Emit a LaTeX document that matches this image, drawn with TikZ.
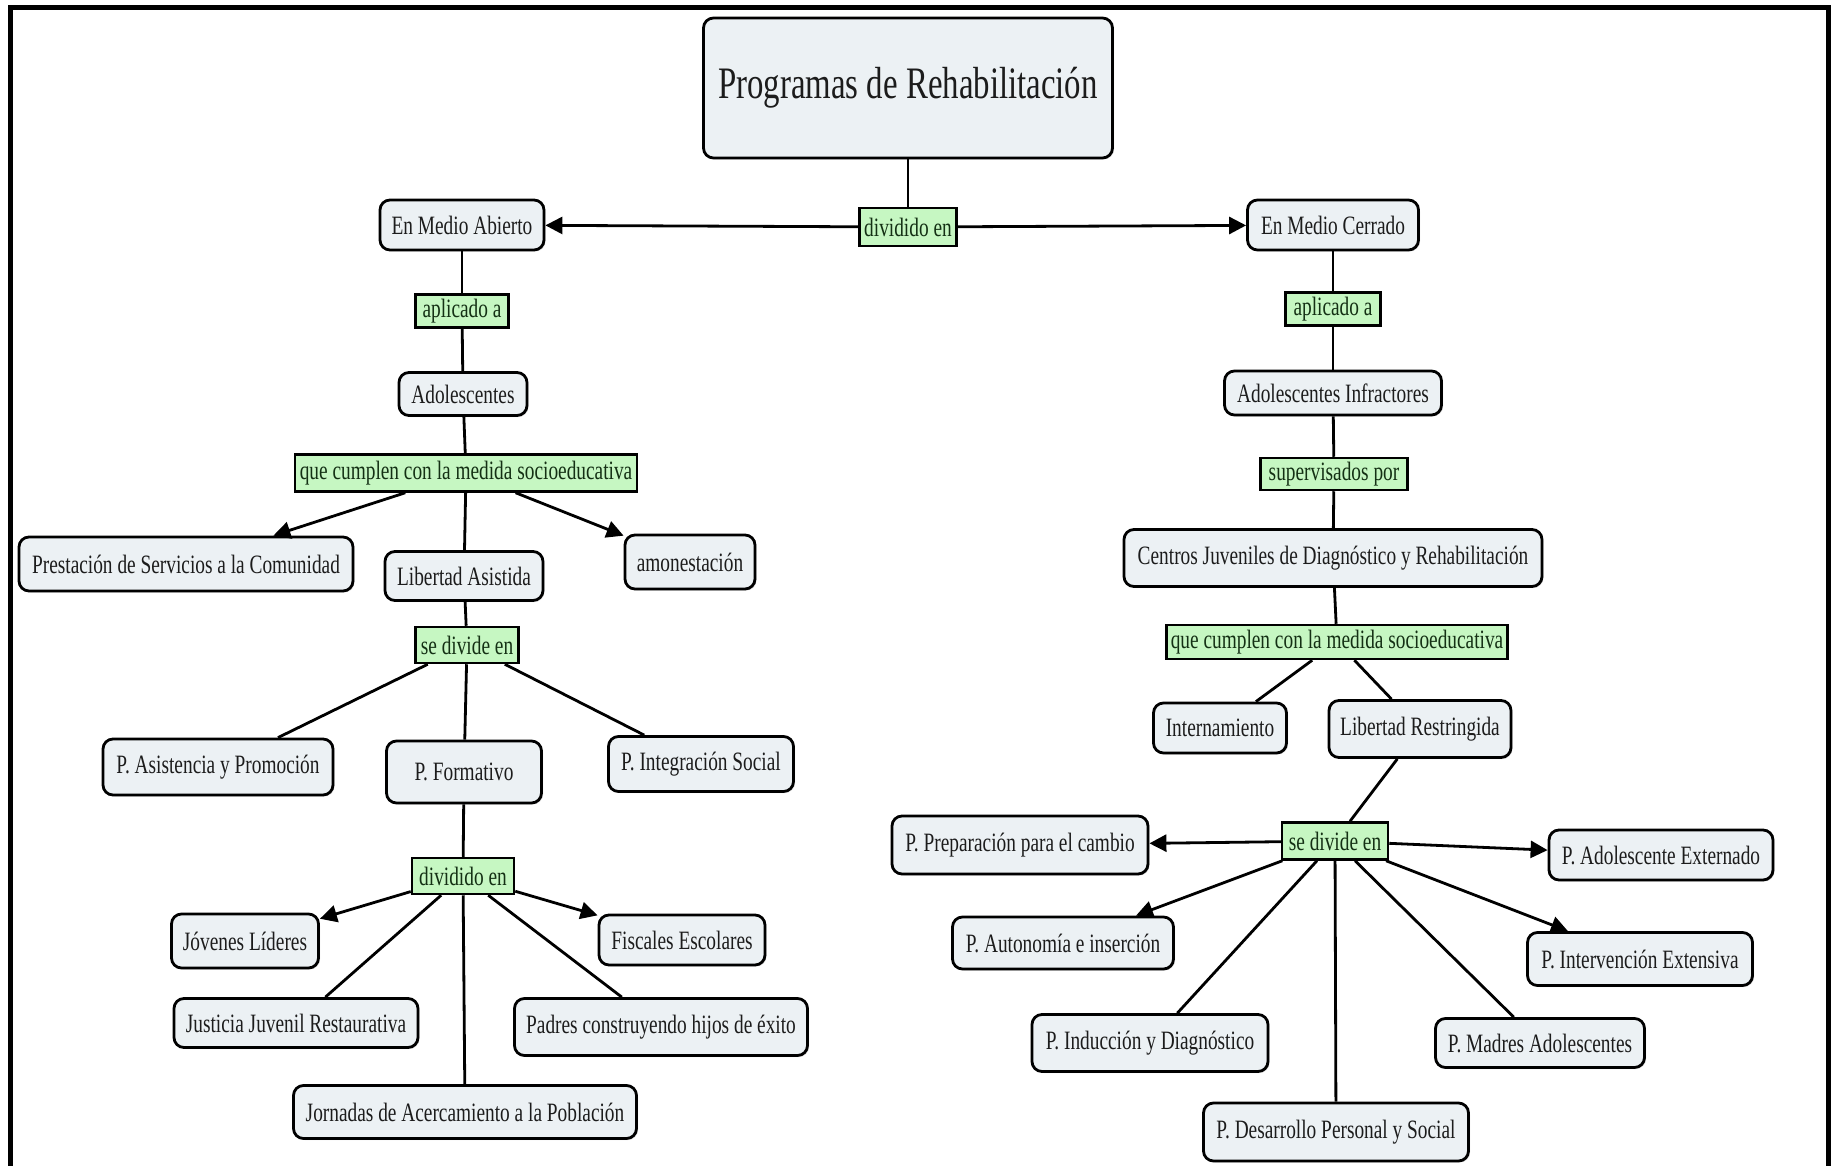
\documentclass[tikz,border=0pt]{standalone}
\usepackage{fontspec}
\setmainfont{Liberation Serif}[FakeStretch=0.73]
\usetikzlibrary{arrows.meta,shadows}
\definecolor{conceptfill}{HTML}{ECF1F4}
\definecolor{concepttext}{HTML}{1C1C1C}
\definecolor{linkfill}{HTML}{C6F7C2}
\definecolor{linktext}{HTML}{143014}
\tikzset{
  concept/.style={draw=black, line width=2.8pt, rounded corners=10pt, fill=conceptfill,
    text=concepttext, font=\fontsize{26.5}{30}\selectfont, inner sep=0pt, align=center,
    drop shadow={opacity=0.25, shadow xshift=1.5pt, shadow yshift=-1.5pt}},
  linkbox/.style={draw=black, line width=2.5pt, fill=linkfill, text=linktext,
    font=\fontsize{26.5}{30}\selectfont, inner sep=0pt, align=center},
  conn/.style={draw=black, line width=2.8pt},
  arr/.style={conn, -{Triangle[length=17pt,width=17pt]}},
  sz/.style 2 args={minimum width=#1, minimum height=#2}
}
\begin{document}
\begin{tikzpicture}[x=1pt,y=-1pt]
\useasboundingbox (0,0) rectangle (1835,1166);
% frame
\draw[line width=5pt] (10.5,1170) -- (10.5,8) -- (1828,8) -- (1828,1170);

% nodes
\node[concept, sz={409}{140}, font=\fontsize{45}{50}\selectfont] (title) at (908,88) {Programas de Rehabilitación};
\node[linkbox, sz={97}{38}] (div1) at (908,227) {dividido en};
\node[concept, sz={164}{50}] (ema) at (462,225) {En Medio Abierto};
\node[concept, sz={171}{50}] (emc) at (1333,225) {En Medio Cerrado};
\node[linkbox, sz={93}{33}] (apl1) at (462,311) {aplicado a};
\node[linkbox, sz={95}{33}] (apl2) at (1333,309) {aplicado a};
\node[concept, sz={128}{43}] (adol) at (463,394) {Adolescentes};
\node[concept, sz={217}{44}] (adinf) at (1333,393) {Adolescentes Infractores};
\node[linkbox, sz={342}{37}] (qcl) at (466,473) {que cumplen con la medida socioeducativa};
\node[concept, sz={334}{54}] (prest) at (186,564) {Prestación de Servicios a la Comunidad};
\node[concept, sz={158}{49}] (libas) at (464,576) {Libertad Asistida};
\node[concept, sz={130}{54}] (amon) at (690,562) {amonestación};
\node[linkbox, sz={103}{36}] (sdl) at (467,645) {se divide en};
\node[concept, sz={230}{56}] (pasist) at (218,767) {P. Asistencia y Promoción};
\node[concept, sz={155}{62}] (pform) at (464,772) {P. Formativo};
\node[concept, sz={185}{55}] (pinteg) at (701,764) {P. Integración Social};
\node[linkbox, sz={102}{36}] (div2) at (463,876) {dividido en};
\node[concept, sz={147}{54}] (jov) at (245,941) {Jóvenes Líderes};
\node[concept, sz={166}{50}] (fisc) at (682,940) {Fiscales Escolares};
\node[concept, sz={244}{49}] (just) at (296,1023) {Justicia Juvenil Restaurativa};
\node[concept, sz={293}{57}] (padres) at (661,1027) {Padres construyendo hijos de éxito};
\node[concept, sz={343}{53}] (jorn) at (465,1112) {Jornadas de Acercamiento a la Población};
\node[linkbox, sz={147}{32}] (sup) at (1334,474) {supervisados por};
\node[concept, sz={418}{57}] (cjdr) at (1333,558) {Centros Juveniles de Diagnóstico y Rehabilitación};
\node[linkbox, sz={341}{34}] (qcr) at (1337,642) {que cumplen con la medida socioeducativa};
\node[concept, sz={133}{50}] (intern) at (1220,728) {Internamiento};
\node[concept, sz={182}{57}] (librest) at (1420,729) {Libertad Restringida};
\node[linkbox, sz={106}{37}] (sdr) at (1335,841) {se divide en};
\node[concept, sz={256}{58}] (pprep) at (1020,845) {P. Preparación para el cambio};
\node[concept, sz={224}{50}] (padext) at (1661,855) {P. Adolescente Externado};
\node[concept, sz={221}{52}] (paut) at (1063,943) {P. Autonomía e inserción};
\node[concept, sz={225}{53}] (pinterv) at (1640,959) {P. Intervención Extensiva};
\node[concept, sz={236}{57}] (pind) at (1150,1043) {P. Inducción y Diagnóstico};
\node[concept, sz={209}{49}] (pmadres) at (1540,1043) {P. Madres Adolescentes};
\node[concept, sz={265}{58}] (pdes) at (1336,1132) {P. Desarrollo Personal y Social};

% connectors
\draw[conn] (title) -- (div1);
\draw[arr] (div1) -- (ema);
\draw[arr] (div1) -- (emc);
\draw[conn] (ema) -- (apl1);
\draw[conn] (apl1) -- (adol);
\draw[conn] (adol) -- (qcl);
\draw[arr] (qcl) -- (prest);
\draw[conn] (qcl) -- (libas);
\draw[arr] (qcl) -- (amon);
\draw[conn] (libas) -- (sdl);
\draw[conn] (sdl) -- (pasist);
\draw[conn] (sdl) -- (pform);
\draw[conn] (sdl) -- (pinteg);
\draw[conn] (pform) -- (div2);
\draw[arr] (div2) -- (jov);
\draw[arr] (div2) -- (fisc);
\draw[conn] (div2) -- (just);
\draw[conn] (div2) -- (jorn);
\draw[conn] (div2) -- (padres);
\draw[conn] (emc) -- (apl2);
\draw[conn] (apl2) -- (adinf);
\draw[conn] (adinf) -- (sup);
\draw[conn] (sup) -- (cjdr);
\draw[conn] (cjdr) -- (qcr);
\draw[conn] (qcr) -- (intern);
\draw[conn] (qcr) -- (librest);
\draw[conn] (librest) -- (sdr);
\draw[arr] (sdr) -- (pprep);
\draw[arr] (sdr) -- (padext);
\draw[arr] (sdr) -- (paut);
\draw[arr] (sdr) -- (pinterv);
\draw[conn] (sdr) -- (pind);
\draw[conn] (sdr) -- (pdes);
\draw[conn] (sdr) -- (pmadres);
\end{tikzpicture}
\end{document}
